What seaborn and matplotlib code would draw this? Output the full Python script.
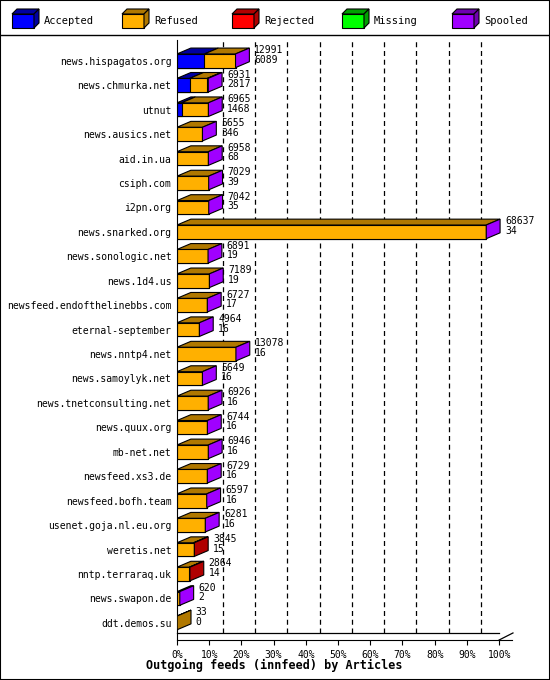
import matplotlib
matplotlib.use("Agg")
import matplotlib.pyplot as plt
import seaborn as sns
import pandas as pd
from matplotlib.patches import Polygon, Rectangle

hosts = ["news.hispagatos.org","news.chmurka.net","utnut","news.ausics.net","aid.in.ua","csiph.com",
         "i2pn.org","news.snarked.org","news.sonologic.net","news.1d4.us","newsfeed.endofthelinebbs.com",
         "eternal-september","news.nntp4.net","news.samoylyk.net","news.tnetconsulting.net","news.quux.org",
         "mb-net.net","newsfeed.xs3.de","newsfeed.bofh.team","usenet.goja.nl.eu.org","weretis.net",
         "nntp.terraraq.uk","news.swapon.de","ddt.demos.su"]
totals = [12991,6931,6965,5655,6958,7029,7042,68637,6891,7189,6727,4964,13078,5649,6926,6744,6946,6729,6597,6281,3845,2864,620,33]
second = [6089,2817,1468,346,68,39,35,34,19,19,17,16,16,16,16,16,16,16,16,16,15,14,2,0]
accepted = [6089,2817,1000,0,0,0,0,0,0,0,0,0,0,0,0,0,0,0,0,0,0,0,0,0]
rejected = [0,200,0,0,0,0,0,0,0,0,0,0,0,0,0,0,0,0,0,0,150,120,0,0]
side = ["spool"]*20 + ["rej","rej","spool","ref"]

C = {"acc":"#0000ff","ref":"#ffb000","rej":"#ff0000","miss":"#00ff00","spool":"#a000ff"}
D = {"acc":"#0000a0","ref":"#b07800","rej":"#b00000","miss":"#00a000","spool":"#7000b0"}

scale = 96.0 / max(totals)
df = pd.DataFrame({"host":hosts,
                   "all":[t*scale for t in totals],
                   "accref":[(t-r)*scale for t,r in zip(totals,rejected)],
                   "acc":[a*scale for a in accepted]})

fig = plt.figure(figsize=(5.5,6.8), dpi=100)
ax = fig.add_axes([177/550, 40/680, 335/550, 600/680])
bw = 0.56
kw = dict(y="host", orient="h", width=bw, edgecolor="black", linewidth=0.8, ax=ax)
sns.barplot(data=df, x="all", color=C["rej"], saturation=1, **kw)
sns.barplot(data=df, x="accref", color=C["ref"], saturation=1, **kw)
sns.barplot(data=df, x="acc", color=C["acc"], saturation=1, **kw)
for p in ax.patches:
    if p.get_width() == 0:
        p.set_visible(False)

dx, dy = 4.3, 0.24
for i in range(len(hosts)):
    y0 = i - bw/2
    segs = [(0, accepted[i]*scale, "acc"),
            (accepted[i]*scale, (totals[i]-rejected[i])*scale, "ref"),
            ((totals[i]-rejected[i])*scale, totals[i]*scale, "rej")]
    for a, b, k in segs:
        if b - a > 0:
            ax.add_patch(Polygon([(a,y0),(b,y0),(b+dx,y0-dy),(a+dx,y0-dy)], closed=True,
                                 facecolor=D[k], edgecolor="black", lw=0.8, zorder=3))
    e = totals[i]*scale
    ax.add_patch(Polygon([(e,y0),(e+dx,y0-dy),(e+dx,y0+bw-dy),(e,y0+bw)], closed=True,
                         facecolor=(C if side[i]=="spool" else D)[side[i]], edgecolor="black", lw=0.8, zorder=3))
    ax.text(e+dx+1.5, y0-dy-0.12, f"{totals[i]}\n{second[i]}", fontsize=7, family="DejaVu Sans Mono",
            va="top", ha="left", linespacing=0.95, zorder=4)

ax.set_ylim(len(hosts)-0.3, -0.85)
ax.set_xlim(0, 104)
ax.set_ylabel(""); ax.set_xlabel("")
for g in range(10, 100, 10):
    ax.plot([g+dx, g+dx], [len(hosts)-0.3-dy*1.2, -0.85], ls=(0,(4,3)), color="black", lw=0.9, zorder=0)
ax.plot([100+dx]*2, [len(hosts)-0.3-dy*1.2, -0.85], color="black", lw=0.9, zorder=0)
ax.set_xticks(range(0,101,10))
ax.set_xticklabels([f"{g}%" for g in range(0,101,10)], family="DejaVu Sans Mono", fontsize=7)
ax.tick_params(axis="y", labelsize=7, length=0, pad=4)
for t in ax.get_yticklabels():
    t.set_family("DejaVu Sans Mono")
for s in ["top","right"]:
    ax.spines[s].set_visible(False)
ax.plot([0,100],[len(hosts)-0.3-dy*1.2]*2, color="black", lw=0.9, clip_on=False)
ax.plot([100,100+dx],[len(hosts)-0.3, len(hosts)-0.3-dy*1.2], color="black", lw=0.9, clip_on=False)
fig.text(274/550, 8/680, "Outgoing feeds (innfeed) by Articles", fontsize=8.5, weight="bold",
         family="DejaVu Sans Mono", ha="center", va="bottom")

# legend band
fig.add_artist(Rectangle((0,0),1,1, transform=fig.transFigure, fill=False, edgecolor="black", lw=1.5))
fig.add_artist(plt.Line2D([0,1],[1-35/680]*2, transform=fig.transFigure, color="black", lw=1))
names = ["Accepted","Refused","Rejected","Missing","Spooled"]
keys = ["acc","ref","rej","miss","spool"]
for j,(n,k) in enumerate(zip(names,keys)):
    x0 = (12 + j*110)/550; yb = 1-28/680
    w, h = 22/550, 14/680
    fig.add_artist(Rectangle((x0, yb), w, h, transform=fig.transFigure, facecolor=C[k], edgecolor="black", lw=0.8))
    fig.add_artist(Polygon([(x0,yb+h),(x0+w,yb+h),(x0+w+5/550,yb+h+5/680),(x0+5/550,yb+h+5/680)],
                           transform=fig.transFigure, facecolor=D[k], edgecolor="black", lw=0.8))
    fig.add_artist(Polygon([(x0+w,yb),(x0+w+5/550,yb+5/680),(x0+w+5/550,yb+h+5/680),(x0+w,yb+h)],
                           transform=fig.transFigure, facecolor=D[k], edgecolor="black", lw=0.8))
    fig.text(x0+w+10/550, yb+h/2, n, fontsize=7.5, family="DejaVu Sans Mono", va="center")

fig.savefig("out.png", dpi=100)
